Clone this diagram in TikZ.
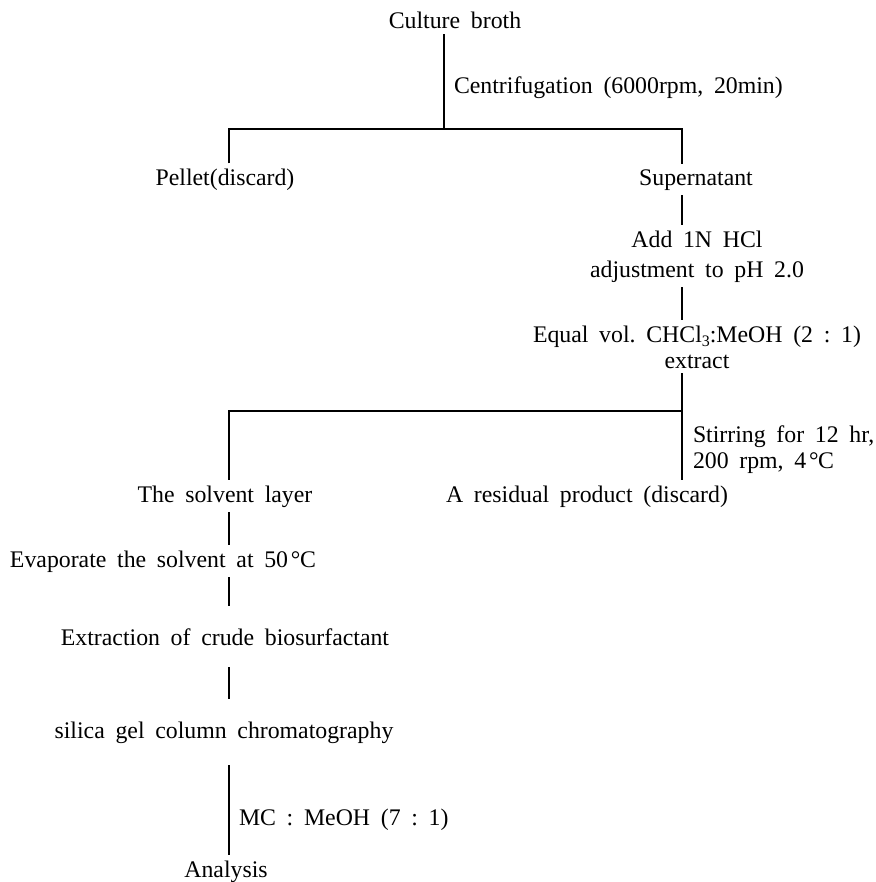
\documentclass[tikz,border=0pt]{standalone}
\usepackage{fontspec}
\setmainfont{Liberation Serif}
\usetikzlibrary{calc}
\newcommand{\degC}{\kern0.12em°\kern-0.02em C}
\newcommand{\subthree}{\raisebox{-0.18em}{\fontsize{8}{9}\selectfont 3}}
\newcommand{\flowfont}{\fontsize{11.9}{13}\selectfont\frenchspacing\spaceskip=0.45em plus 0.1em\relax}
\tikzset{
    label text/.style={inner sep=0pt, outer sep=2.5pt, anchor=base},
    gapped/.style={outer sep=11pt},
    flow line/.style={line width=0.6pt}
}

\begin{document}
\begin{tikzpicture}[x=0.5pt, y=-0.5pt, font=\flowfont, every node/.style={label text}]
        \useasboundingbox (0,0) rectangle (876,882);

        % Top: broth and centrifugation
        \node (broth) at (455,29) {Culture broth};
        \node[anchor=base west] (centri) at (449,94) {Centrifugation (6000rpm, 20min)};
        \coordinate (h1l) at (229,129);
        \coordinate (h1m) at (444,129);
        \coordinate (h1r) at (682,129);
        \draw[flow line] (broth.south -| h1m) -- (h1m);

        % First split
        \node (pellet) at (225,185) {Pellet(discard)};
        \node (super) at (696,185) {Supernatant};
        \draw[flow line] (pellet.north -| h1l) -- (h1l) -- (h1r) -- (super.north -| h1r);

        % Right branch - acid and extraction (base = last line)
        \node[align=center] (hcl) at (697,277) {Add 1N HCl\\[2pt]adjustment to pH 2.0};
        \node[align=center] (chcl) at (697,368) {Equal vol. CHCl\subthree:MeOH (2 : 1)\\extract};
        \draw[flow line] (super.south -| h1r) -- (hcl.north -| h1r);
        \draw[flow line] (hcl.south -| h1r) -- (chcl.north -| h1r);

        % Second split
        \coordinate (h2l) at (229,411);
        \coordinate (h2r) at (682,411);
        \node[align=left, anchor=base west] (stir) at (688,468) {Stirring for 12 hr,\\200 rpm, 4\degC};
        \node (solvent) at (225,502) {The solvent layer};
        \node (residue) at (587,502) {A residual product (discard)};
        \draw[flow line] (chcl.south -| h2r) -- (residue.north -| h2r);
        \draw[flow line] (h2r) -- (h2l) -- (solvent.north -| h2l);

        % Left branch - down to analysis
        \node[anchor=base west] (evap) at (5,567) {Evaporate the solvent at 50\degC};
        \node[gapped] (crude) at (225,645) {Extraction of crude biosurfactant};
        \node[gapped] (silica) at (224,738) {silica gel column chromatography};
        \node[anchor=base west] (mc) at (234,825) {MC : MeOH (7 : 1)};
        \node (analysis) at (226,877) {Analysis};
        \draw[flow line] (solvent.south -| h2l) -- (evap.north -| h2l);
        \draw[flow line] (evap.south -| h2l) -- (crude.north -| h2l);
        \draw[flow line] (crude.south -| h2l) -- (silica.north -| h2l);
        \draw[flow line] (silica.south -| h2l) -- (analysis.north -| h2l);

    \end{tikzpicture}
\end{document}
